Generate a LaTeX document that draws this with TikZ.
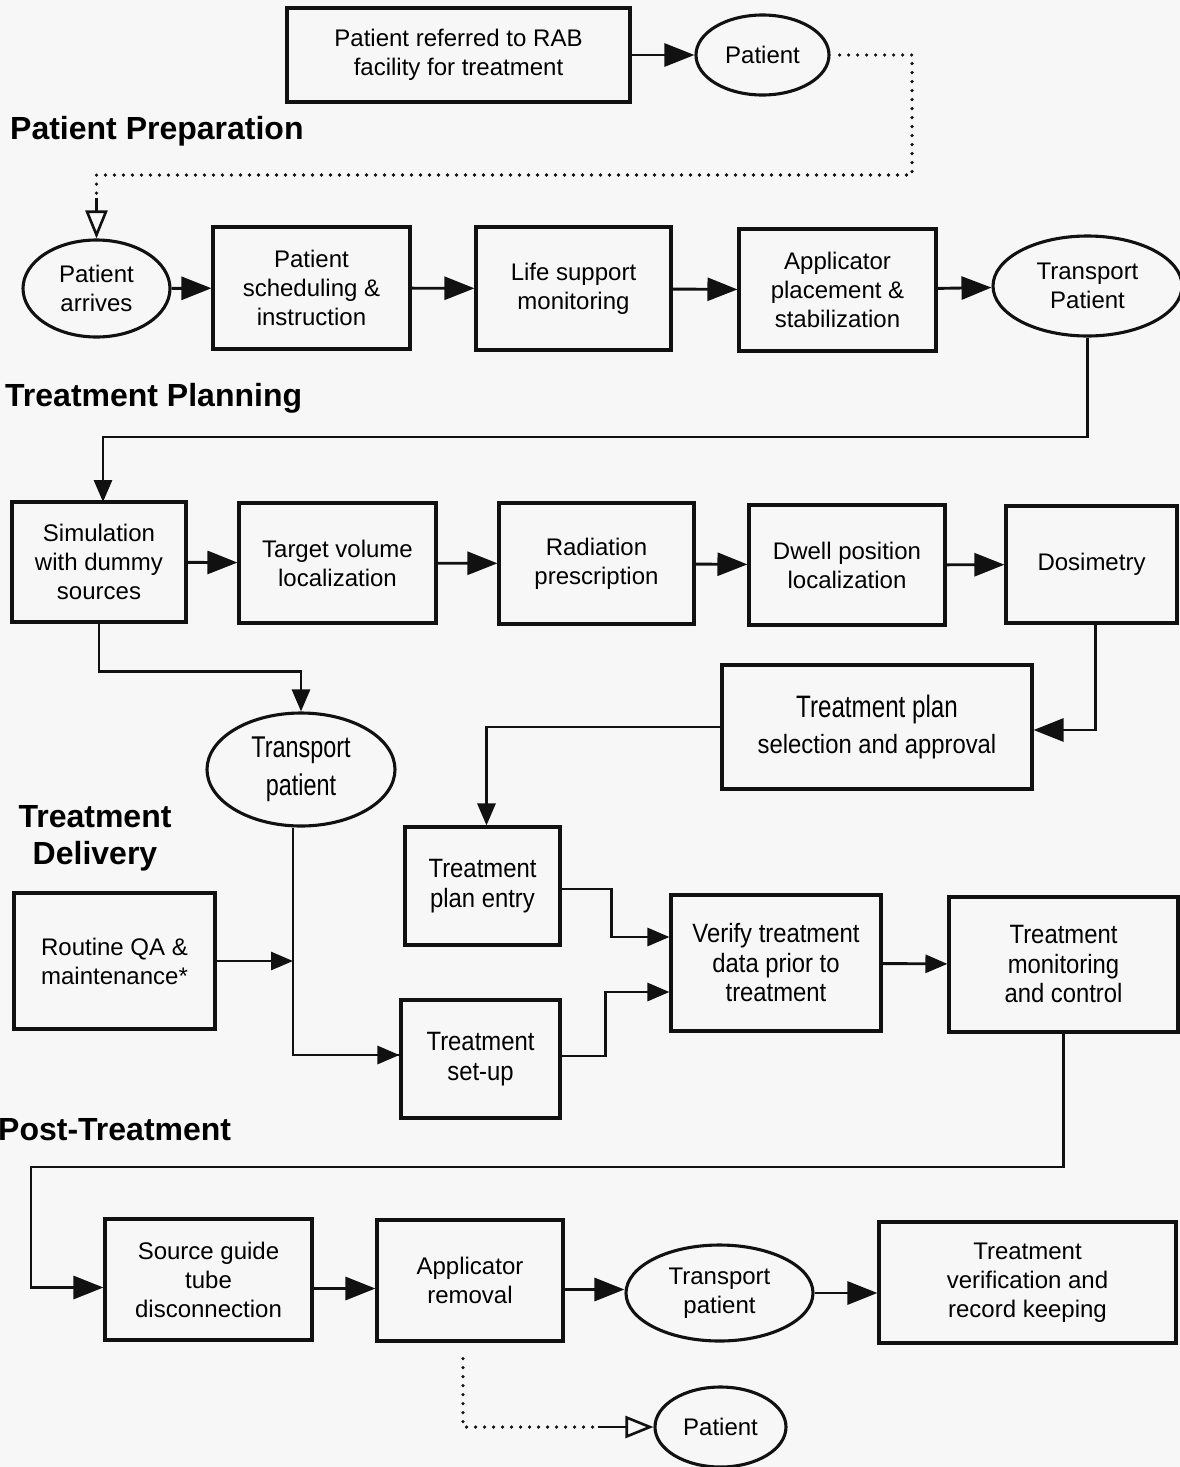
\documentclass[tikz,border=0pt]{standalone}
\usepackage{fontspec}
\setmainfont{Liberation Sans}
\newfontfamily\nf[FakeStretch=0.9]{Liberation Sans}
\newfontfamily\nff[FakeStretch=0.78]{Liberation Sans}
\usetikzlibrary{shapes.geometric,arrows.meta}
\definecolor{bg}{RGB}{247,247,247}
\definecolor{ink}{RGB}{17,17,17}
\begin{document}
\begin{tikzpicture}[x=1pt,y=-1pt,
  box/.style={draw=ink,line width=3.1pt,inner sep=0pt,align=center,font=\fontsize{24}{29}\selectfont},
  oval/.style={ellipse,draw=ink,line width=3.1pt,inner sep=0pt,align=center,font=\fontsize{24}{29}\selectfont},
  nbox/.style={box,font=\nf\fontsize{26.5}{29.5}\selectfont},
  head/.style={font=\fontsize{32}{37}\selectfont\bfseries,inner sep=0pt,align=center},
  conn/.style={draw=ink,line width=2.9pt},
  arr/.style={conn,-{Triangle[length=30pt,width=23pt]}},
  arrs/.style={conn,-{Triangle[length=22pt,width=18pt]}},
  dotl/.style={draw=ink,line width=3.6pt,line cap=round,dash pattern=on 0pt off 9pt},
  oarr/.style={conn,line width=2.6pt,-{Triangle[open,length=28pt,width=22pt]}},
]
\useasboundingbox (0,0) rectangle (1180,1467);
\fill[bg] (0,0) rectangle (1180,1467);

% --- top
\node[box,minimum width=343pt,minimum height=94pt] (ref) at (458.5,55) {Patient referred to RAB\\facility for treatment};
\node[oval,minimum width=133pt,minimum height=80pt] (p1) at (762.5,55) {Patient};
\node[head,anchor=west] (hPP) at (10,131) {Patient Preparation};

% --- row 1
\node[oval,minimum width=147pt,minimum height=97pt] (pa) at (96.5,288.5) {Patient\\arrives};
\node[box,minimum width=197pt,minimum height=122pt] (sch) at (311.5,288) {Patient\\scheduling \&\\instruction};
\node[box,minimum width=195pt,minimum height=123pt] (life) at (573.5,288.5) {Life support\\monitoring};
\node[box,minimum width=197pt,minimum height=122pt] (app) at (837.5,290) {Applicator\\placement \&\\stabilization};
\node[oval,minimum width=189pt,minimum height=100pt] (tp1) at (1087.5,286) {Transport\\Patient};

\node[head,anchor=west] (hTP) at (5,398) {Treatment Planning};

% --- row 2
\node[box,minimum width=174pt,minimum height=120pt] (sim) at (99,562) {Simulation\\with dummy\\sources};
\node[box,minimum width=197pt,minimum height=120pt] (tvl) at (337.5,563) {Target volume\\localization};
\node[box,minimum width=195pt,minimum height=121pt] (rx) at (596.5,563.5) {Radiation\\prescription};
\node[box,minimum width=196pt,minimum height=120pt] (dwell) at (847,565) {Dwell position\\localization};
\node[box,minimum width=171pt,minimum height=117pt] (dos) at (1091.5,564.5) {Dosimetry};

% --- delivery
\node[oval,minimum width=188pt,minimum height=113pt,font=\nff\fontsize{30}{38}\selectfont] (tpm) at (301,769.5) {Transport\\patient};
\node[box,minimum width=310pt,minimum height=124pt,font=\nf\fontsize{26.5}{36}\selectfont] (sel) at (877,727) {{\nff\fontsize{31}{36}\selectfont Treatment plan}\\selection and approval};
\node[head] (hTD) at (95,838) {Treatment\\Delivery};
\node[box,minimum width=201pt,minimum height=136pt] (qa) at (114.5,961) {Routine QA \&\\maintenance*};
\node[nbox,minimum width=155pt,minimum height=118pt] (entry) at (482.5,886) {Treatment\\plan entry};
\node[nbox,minimum width=159pt,minimum height=118pt] (setup) at (480.5,1059) {Treatment\\set-up};
\node[nbox,minimum width=210pt,minimum height=136pt] (ver) at (776,963) {Verify treatment\\data prior to\\treatment};
\node[nbox,minimum width=229pt,minimum height=135pt] (mon) at (1063.5,964.5) {Treatment\\monitoring\\and control};

\node[head,anchor=west] (hPT) at (-2,1130) {Post-Treatment};

% --- row 4
\node[box,minimum width=207pt,minimum height=121pt] (src) at (208.5,1279.5) {Source guide\\tube\\disconnection};
\node[box,minimum width=186pt,minimum height=121pt] (rem) at (470,1280.5) {Applicator\\removal};
\node[oval,minimum width=187pt,minimum height=96pt] (tp3) at (719.5,1293) {Transport\\patient};
\node[box,minimum width=297pt,minimum height=121pt] (rec) at (1027.5,1282.5) {Treatment\\verification and\\record keeping};
\node[oval,minimum width=131pt,minimum height=80pt] (p2) at (720.5,1427) {Patient};

% --- connectors
\draw[arr] (ref) -- (p1);
\coordinate (d1) at (912,175);
\coordinate (d2) at (96.5,198);
\draw[dotl] ([xshift=9pt]p1.east) -| (d1) -| (d2);
\draw[oarr] (d2) -- (pa.north);

\draw[arr] (pa) -- (sch);
\draw[arr] (sch) -- (life);
\draw[arr] (life) -- (app);
\draw[arr] (app) -- (tp1);

\draw[arrs] (tp1.south) |- (103,437) -- (103,502);
\draw[arr] (sim) -- (tvl);
\draw[arr] (tvl) -- (rx);
\draw[arr] (rx) -- (dwell);
\draw[arr] (dwell) -- (dos);

\draw[arrs] (sim.south) -- ++(0,48) -| (tpm.north);
\draw[arr] ([xshift=4pt]dos.south) |- ([yshift=-3pt]sel.east);
\draw[arrs] (sel.west) -| ([xshift=4pt]entry.north);

\coordinate (j) at ([xshift=-8pt]tpm.south |- qa.east);
\draw[conn] ([xshift=-8pt]tpm.south) |- ([yshift=4pt]setup.west);
\draw[arrs] ([yshift=4pt]setup.west -| j) -- ([yshift=4pt]setup.west);
\draw[arrs] (qa.east) -- (j);

\draw[arrs] ([yshift=-3pt]entry.east) -- ++(50,0) |- ([yshift=26pt]ver.west);
\draw[arrs] ([yshift=3pt]setup.east) -- ++(44,0) |- ([yshift=-29pt]ver.west);
\draw[arrs] (ver) -- (mon);

\draw[arr] (mon.south) |- (31,1167) |- ([yshift=-8pt]src.west);
\path ([yshift=-9pt]src.east) coordinate (se) ([yshift=-9pt]rem.east) coordinate (re);
\draw[arr] (se) -- (se -| rem.west);
\draw[arr] (re) -- (re -| tp3.west);
\draw[arr] (tp3.east) -- (tp3.east -| rec.west);

\coordinate (d3) at ([xshift=-55pt]p2.west);
\draw[dotl] ([shift={(-7pt,-16pt)}]rem.south) |- (d3);
\draw[oarr] (d3) -- (p2.west);
\end{tikzpicture}
\end{document}
